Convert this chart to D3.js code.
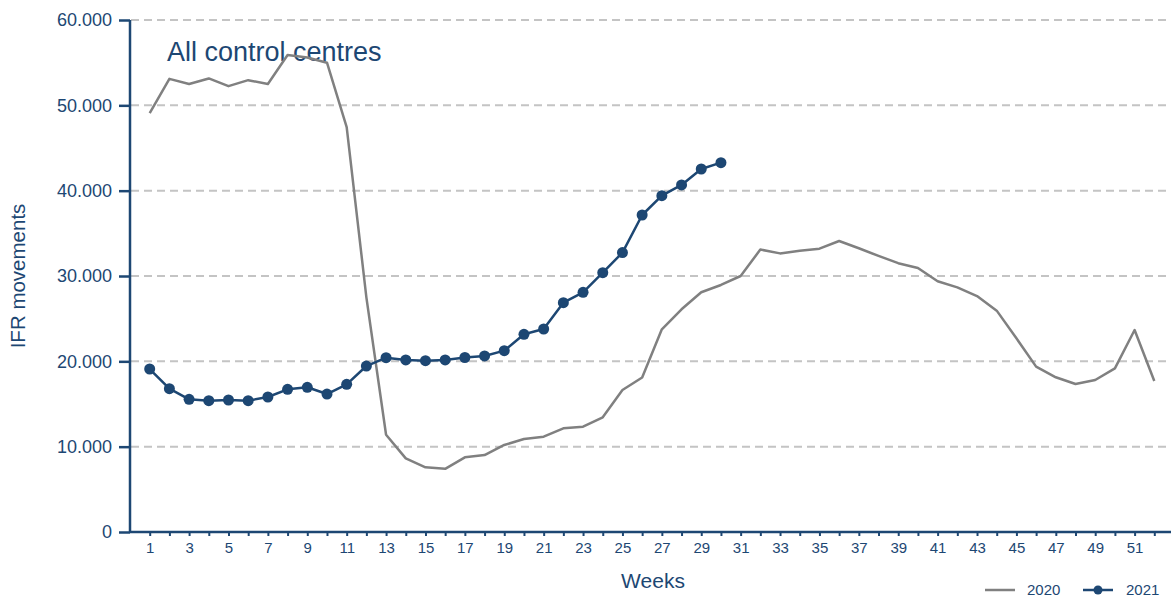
<!DOCTYPE html>
<html><head><meta charset="utf-8">
<script src="https://cdn.jsdelivr.net/npm/d3@7"></script>
<style>body{margin:0;background:#fff}svg{display:block;font-family:"Liberation Sans",Arial,sans-serif}</style>
</head><body>
<svg id="c" width="1171" height="598"></svg>
<script>
const weeks2020 = d3.range(1, 53);
const values2020 = [49100,53100,52500,53150,52250,52950,52500,55900,55600,55000,47450,27500,11400,8630,7580,7400,8750,9020,10200,10900,11170,12150,12340,13440,16640,18100,23750,26100,28100,28950,30000,33100,32650,32970,33200,34100,33250,32350,31500,30940,29380,28670,27650,25940,22700,19380,18130,17340,17810,19180,23670,17700];
const weeks2021 = d3.range(1, 31);
const values2021 = [19100,16800,15550,15390,15470,15390,15820,16720,16960,16170,17300,19450,20430,20160,20080,20160,20450,20630,21250,23170,23790,26870,28090,30390,32740,37150,39410,40670,42540,43280];
const yTicks = [0,10000,20000,30000,40000,50000,60000];
const xTickLabels = d3.range(1, 53, 2);
const seriesNames = ["2020","2021"];
const titleText = "All control centres";

const blue = "#1d4773", grey = "#808080";
const svg = d3.select("#c");
const x = d3.scaleLinear().domain([0, 53]).range([130, 1174]);
const y = d3.scaleLinear().domain([0, 60000]).range([532, 20]);
const fmt = v => v === 0 ? "0" : d3.format(",")(v).replace(/,/g, ".");

// grid
svg.append("g").selectAll("line").data(yTicks.filter(d => d > 0)).join("line")
  .attr("x1", 131).attr("x2", 1171).attr("y1", d => y(d)).attr("y2", d => y(d))
  .attr("stroke", "#c4c4c4").attr("stroke-width", 2).attr("stroke-dasharray", "8,5");

// y axis
const ya = svg.append("g").attr("transform", "translate(130,0)")
  .call(d3.axisLeft(y).tickValues(yTicks).tickFormat(fmt).tickSize(11).tickPadding(7));
ya.select(".domain").attr("stroke", blue).attr("stroke-width", 2.5).attr("d", `M0,${y(60000)}V${y(0)}`);
ya.selectAll(".tick line").attr("stroke", blue).attr("stroke-width", 2.5);
ya.selectAll("text").attr("fill", blue).style("font-size", "18px").style("font-family", '"Liberation Sans",Arial,sans-serif');

// x axis
const xa = svg.append("g").attr("transform", "translate(0,532)")
  .call(d3.axisBottom(x).tickValues(d3.range(1, 53)).tickFormat(d => xTickLabels.includes(d) ? d : "").tickSize(4).tickPadding(6));
xa.select(".domain").attr("stroke", blue).attr("stroke-width", 2.5).attr("d", "M130,0H1171");
xa.selectAll(".tick line").attr("stroke", blue).attr("stroke-width", 2);
xa.selectAll("text").attr("fill", blue).style("font-size", "15px").style("font-family", '"Liberation Sans",Arial,sans-serif');

// axis titles
svg.append("text").attr("x", 653).attr("y", 588).attr("text-anchor", "middle")
  .attr("fill", blue).style("font-size", "21px").text("Weeks");
svg.append("text").attr("transform", "translate(25,276) rotate(-90)").attr("text-anchor", "middle")
  .attr("fill", blue).style("font-size", "20.5px").text("IFR movements");

// title
svg.append("text").attr("x", 167).attr("y", 61).attr("fill", blue)
  .style("font-size", "27px").text(titleText);

// lines
const line = d3.line().x(d => x(d[0])).y(d => y(d[1]));
const d2020 = weeks2020.map((w, i) => [w, values2020[i]]);
const d2021 = weeks2021.map((w, i) => [w, values2021[i]]);
svg.append("path").datum(d2020).attr("d", line).attr("fill", "none")
  .attr("stroke", grey).attr("stroke-width", 2.5).attr("stroke-linejoin", "round");
svg.append("path").datum(d2021).attr("d", line).attr("fill", "none")
  .attr("stroke", blue).attr("stroke-width", 2.5).attr("stroke-linejoin", "round");
svg.append("g").selectAll("circle").data(d2021).join("circle")
  .attr("cx", d => x(d[0])).attr("cy", d => y(d[1])).attr("r", 5.5).attr("fill", blue);

// legend
const lg = svg.append("g");
lg.append("line").attr("x1", 985).attr("x2", 1015).attr("y1", 590).attr("y2", 590).attr("stroke", grey).attr("stroke-width", 2.5);
lg.append("text").attr("x", 1027).attr("y", 595).attr("fill", blue).style("font-size", "15px").text(seriesNames[0]);
lg.append("line").attr("x1", 1083).attr("x2", 1113).attr("y1", 590).attr("y2", 590).attr("stroke", blue).attr("stroke-width", 2.5);
lg.append("circle").attr("cx", 1098).attr("cy", 590).attr("r", 4.5).attr("fill", blue);
lg.append("text").attr("x", 1126).attr("y", 595).attr("fill", blue).style("font-size", "15px").text(seriesNames[1]);
</script>
</body></html>
